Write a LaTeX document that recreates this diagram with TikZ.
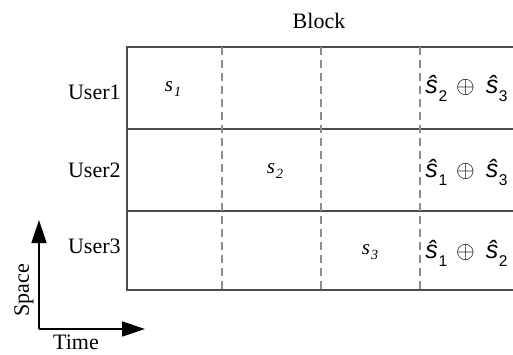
\documentclass[tikz,border=0pt]{standalone}
\usepackage{fontspec}
\setmainfont{Liberation Serif}
\newfontfamily\arialf{Liberation Sans}
\usetikzlibrary{arrows.meta}
\tikzset{
  grid/.style={draw=black!70, line width=0.75pt},
  dgrid/.style={draw=black!45, line width=0.6pt, dash pattern=on 4pt off 2.5pt},
  axis/.style={draw=black, line width=0.75pt, -{Triangle[length=11.5pt,width=7.5pt]}},
  lbl/.style={font=\fontsize{11}{13}\selectfont, inner sep=0pt, anchor=base},
  sym/.style={font=\fontsize{10.5}{12}\selectfont, inner sep=0pt, anchor=base},
  xorl/.style={font=\fontsize{12.5}{14}\selectfont\arialf, inner sep=0pt, anchor=base west},
}
\newcommand{\shat}[1]{\textit{ŝ}\kern0.3pt\raisebox{-4pt}{\fontsize{7.8}{9}\selectfont #1}}
\newcommand{\xo}{{\fontsize{12}{13}\selectfont$\oplus$}}
\newcommand{\ssub}[1]{\textit{s\kern0.5pt\raisebox{-2.5pt}{\fontsize{7}{8}\selectfont #1}}}
\begin{document}
\begin{tikzpicture}[x=0.5pt,y=-0.5pt]
\useasboundingbox (0,0) rectangle (513,354);
% table
\draw[grid] (513,47) -- (127,47) -- (127,290) -- (513,290);
\draw[grid] (127,129) -- (513,129);
\draw[grid] (127,211) -- (513,211);
\foreach \x in {222,321,420} \draw[dgrid] (\x,47) -- (\x,290);
% header
\node[lbl] (block) at (319,28) {Block};
\node[lbl, anchor=base east] (u1) at (121,99) {User1};
\node[lbl, anchor=base east] (u2) at (121,177) {User2};
\node[lbl, anchor=base east] (u3) at (121,253) {User3};
% symbols
\node[sym] (s1) at (173,91) {\ssub{1}};
\node[sym] (s2) at (275,173) {\ssub{2}};
\node[sym] (s3) at (370,254) {\ssub{3}};
\node[xorl] (x1) at (425,93) {\shat{2}\hspace{4.5pt}\xo\hspace{5.5pt}\shat{3}};
\node[xorl] (x2) at (425,177) {\shat{1}\hspace{4.5pt}\xo\hspace{5.5pt}\shat{3}};
\node[xorl] (x3) at (425,258) {\shat{1}\hspace{4.5pt}\xo\hspace{5.5pt}\shat{2}};
% axes
\coordinate (o) at (39,329);
\coordinate (ytip) at (39,220);
\coordinate (xtip) at (145,329);
\draw[axis] (o) -- (ytip);
\draw[axis] (o) -- (xtip);
\node[lbl, anchor=center, rotate=90] (space) at (24,290) {Space};
\node[lbl] (time) at (76,349) {Time};
\end{tikzpicture}
\end{document}
